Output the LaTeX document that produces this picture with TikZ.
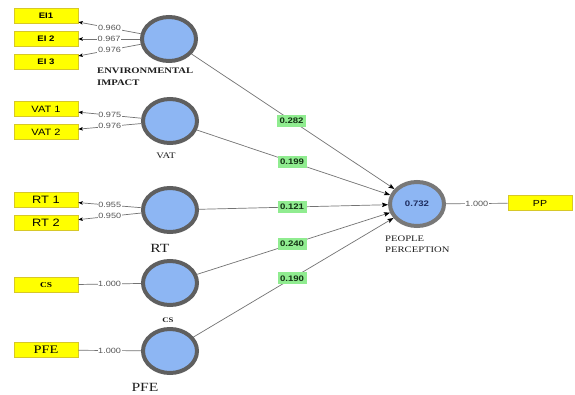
\documentclass[tikz,border=0pt]{standalone}
\usepackage{fontspec}
\setmainfont{Liberation Serif}[FakeStretch=1.25]
\newfontfamily\sansw{Liberation Sans}[FakeStretch=1.2]
\newfontfamily\serifw{Liberation Serif}[FakeStretch=1.25]
\usetikzlibrary{shapes.geometric,arrows.meta,calc}
\definecolor{latf}{RGB}{141,182,243}
\definecolor{latb}{RGB}{95,95,95}
\definecolor{latbp}{RGB}{120,120,120}
\definecolor{indf}{RGB}{255,255,0}
\definecolor{indb}{RGB}{215,200,40}
\definecolor{coefg}{RGB}{144,236,144}
\definecolor{coeft}{RGB}{20,50,20}
\definecolor{loadt}{RGB}{85,85,85}
\definecolor{linec}{RGB}{115,115,115}
\definecolor{navyt}{RGB}{30,45,95}
\definecolor{labt}{RGB}{30,30,30}
\begin{document}
\begin{tikzpicture}[x=1pt,y=-1pt,
  latent/.style={ellipse, draw=latb, line width=4pt, fill=latf, minimum width=54pt, minimum height=44pt, inner sep=0pt},
  ind/.style={rectangle, draw=indb, line width=0.6pt, fill=indf, minimum width=64pt, minimum height=15pt, inner sep=0pt},
  coef/.style={fill=coefg, inner sep=1pt, minimum width=29pt, minimum height=12pt, font=\sansw\bfseries\fontsize{8}{9}\selectfont, text=coeft},
  load/.style={fill=white, inner sep=0.6pt, font=\sansw\fontsize{7.6}{8}\selectfont, text=loadt},
  conn/.style={draw=linec, line width=0.7pt},
  loadarrow/.style={-{Stealth[length=4.5pt,width=3.5pt,inset=1pt,color=black]}},
  patharrow/.style={-{Stealth[length=6pt,width=4.5pt,inset=1.2pt,color=black]}},
  lab/.style={inner sep=0pt, text=labt}
]
\fill[white] (0,0) rectangle (575,394);
\useasboundingbox (0,0) rectangle (575,394);

% latent variables
\node[latent] (ei)  at (169,39)  {};
\node[latent] (vat) at (170,121) {};
\node[latent] (rt)  at (170,210) {};
\node[latent] (cs)  at (170,283) {};
\node[latent] (pfe) at (170,351) {};
\node[latent, draw=latbp, font=\sansw\bfseries\fontsize{8}{9}\selectfont, text=navyt] (pp) at (417,204) {0.732};

% indicators
\node[ind, font=\sansw\bfseries\fontsize{8}{9}\selectfont] (ei1) at (46,16) {EI1};
\node[ind, font=\sansw\bfseries\fontsize{8}{9}\selectfont] (ei2) at (46,39) {EI 2};
\node[ind, font=\sansw\bfseries\fontsize{8}{9}\selectfont] (ei3) at (46,62) {EI 3};
\node[ind, font=\sansw\fontsize{9.2}{10}\selectfont] (vat1) at (46,109) {VAT 1};
\node[ind, font=\sansw\fontsize{9.2}{10}\selectfont] (vat2) at (46,132) {VAT 2};
\node[ind, font=\sansw\fontsize{10.7}{12}\selectfont] (rt1) at (46,200) {RT 1};
\node[ind, font=\sansw\fontsize{10.7}{12}\selectfont] (rt2) at (46,223) {RT 2};
\node[ind, font=\serifw\bfseries\fontsize{7.5}{9}\selectfont] (csb) at (46,285) {CS};
\node[ind, font=\serifw\fontsize{11.5}{13}\selectfont] (pfeb) at (46,350) {PFE};
\node[ind, font=\sansw\fontsize{8.8}{10}\selectfont] (ppb) at (540,203) {PP};

% labels of latent variables
\node[lab, anchor=north west, align=left, font=\serifw\bfseries\fontsize{8.5}{11.5}\selectfont] (eil) at (97,68) {ENVIRONMENTAL\\IMPACT};
\node[lab, font=\serifw\fontsize{8.5}{10}\selectfont] (vatl) at (166,156) {VAT};
\node[lab, font=\serifw\fontsize{12.5}{14}\selectfont] (rtl) at (160,248) {RT};
\node[lab, font=\serifw\bfseries\fontsize{7}{8}\selectfont] (csl) at (168,320) {CS};
\node[lab, font=\serifw\fontsize{12.5}{14}\selectfont] (pfel) at (145,387) {PFE};
\node[lab, anchor=north west, align=left, font=\serifw\fontsize{8.5}{11}\selectfont] (ppl) at (385,236) {PEOPLE\\PERCEPTION};

% outer loadings
\draw[conn, loadarrow] (ei) -- node[load] {0.960} (ei1);
\draw[conn, loadarrow] (ei) -- node[load] {0.967} (ei2);
\draw[conn, loadarrow] (ei) -- node[load] {0.976} (ei3);
\draw[conn, loadarrow] (vat) -- node[load] {0.975} (vat1);
\draw[conn, loadarrow] (vat) -- node[load] {0.976} (vat2);
\draw[conn, loadarrow] (rt) -- node[load] {0.955} (rt1);
\draw[conn, loadarrow] (rt) -- node[load] {0.950} (rt2);
\draw[conn] (cs) -- node[load] {1.000} (csb);
\draw[conn] (pfe) -- node[load] {1.000} (pfeb);
\draw[conn] (pp) -- node[load] {1.000} (ppb);

% path coefficients
\draw[conn, patharrow] (ei) -- (pp);
\draw[conn, patharrow] (vat) -- (pp);
\draw[conn, patharrow] (rt) -- (pp);
\draw[conn, patharrow] (cs) -- (pp);
\draw[conn, patharrow] (pfe) -- (pp);
\node[coef] (c1) at ($(ei)!0.494!(pp)$) {0.282};
\node[coef] (c2) at ($(vat)!0.494!(pp)$) {0.199};
\node[coef] (c3) at ($(rt)!0.494!(pp)$) {0.121};
\node[coef] (c4) at ($(cs)!0.494!(pp)$) {0.240};
\node[coef] (c5) at ($(pfe)!0.494!(pp)$) {0.190};
\end{tikzpicture}
\end{document}
